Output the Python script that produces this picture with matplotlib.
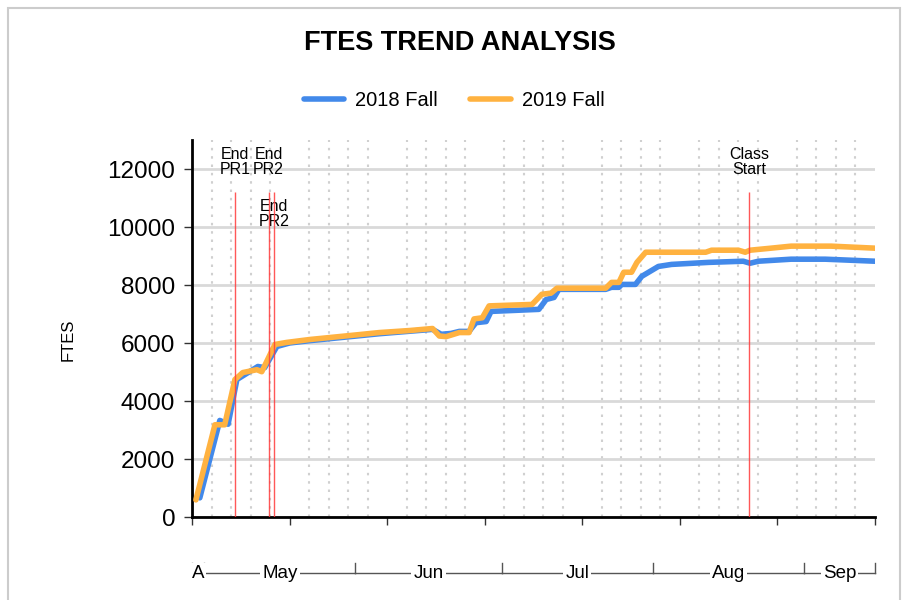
import matplotlib
matplotlib.use("Agg")
import matplotlib.pyplot as plt
import matplotlib.transforms as mtransforms
from matplotlib.patches import Rectangle
import numpy as np
import pandas as pd

plt.rcParams['font.family'] = ['Liberation Sans', 'DejaVu Sans']

# day 0 = Apr 28
base_date = pd.Timestamp("2019-04-28")
n_days = 140

days_2018 = [1.6, 5.7, 7.4, 9.2, 13.5, 14.9, 17.4, 20.0, 24.1, 38.4, 49.3, 51.1, 53.1,
             54.8, 56.8, 58.2, 60.3, 61.3, 71.1, 72.6, 74.2, 75.2, 84.8, 86.0, 87.5,
             88.1, 90.9, 92.2, 93.6, 95.6, 98.3, 105.9, 113.0, 114.4, 116.1, 122.8,
             129.8, 140.0]
ftes_2018 = [660, 3330, 3200, 4740, 5190, 5150, 5880, 6000, 6080, 6320, 6470, 6300, 6330,
             6400, 6400, 6700, 6740, 7090, 7160, 7500, 7570, 7850, 7850, 7920, 7920,
             8020, 8020, 8300, 8440, 8640, 8710, 8780, 8820, 8750, 8820, 8890,
             8890, 8820]

days_2019 = [0.8, 4.7, 6.7, 8.8, 10.4, 13.3, 14.3, 17.0, 19.4, 24.1, 33.7, 38.4, 44.6,
             49.3, 50.7, 52.1, 54.8, 56.8, 57.8, 59.5, 60.9, 69.7, 71.7, 73.6, 74.8,
             84.8, 86.0, 87.5, 88.5, 90.1, 91.2, 93.0, 105.3, 106.5, 112.0, 113.4,
             114.4, 118.7, 122.8, 131.0, 140.0]
ftes_2019 = [590, 3180, 3180, 4740, 4980, 5080, 5010, 5950, 6020, 6120, 6280, 6360, 6430,
             6500, 6240, 6220, 6360, 6360, 6830, 6870, 7280, 7330, 7680, 7720, 7890,
             7890, 8090, 8090, 8440, 8440, 8780, 9130, 9130, 9200, 9200, 9130,
             9200, 9270, 9340, 9340, 9270]

marker_days = [8.8, 15.7, 16.8, 114.2]
marker_labels = ["End\nPR1", "End\nPR2", "End\nPR2", "Class\nStart"]
marker_label_y = [12250, 12250, 10450, 12250]
marker_top = 11200

blue = '#4289ea'
orange = '#ffb240'

fig = plt.figure(figsize=(9.05, 6), dpi=100)
ax = fig.add_axes([192 / 905, 1 - 517 / 600, 683 / 905, 377 / 600])

ax.plot(days_2018, ftes_2018, color=blue, lw=4, label='2018 Fall',
        solid_joinstyle='round', solid_capstyle='round', zorder=3)
ax.plot(days_2019, ftes_2019, color=orange, lw=4, label='2019 Fall',
        solid_joinstyle='round', solid_capstyle='round', zorder=4)

for d, lab, ly in zip(marker_days, marker_labels, marker_label_y):
    ax.vlines(d, 0, marker_top, color='#ff3b3b', lw=1, alpha=0.85, zorder=5)
    ax.text(d, ly, lab, ha='center', va='center', fontsize=11.5, linespacing=1.0)

ax.set_xlim(0, n_days)
ax.set_ylim(0, 13000)
ax.set_yticks(np.arange(0, 12001, 2000))
ax.set_xticks(np.arange(0, n_days + 1, 20))
ax.set_xticks(np.arange(0, n_days + 1, 4), minor=True)
ax.set_xticklabels([])
ax.tick_params(axis='y', labelsize=17.5, length=6, width=1, color='#333333', pad=6)
ax.tick_params(axis='x', which='major', length=6, width=1, color='#333333')
ax.tick_params(axis='x', which='minor', length=0)
ax.grid(axis='y', color='#d9d9d9', lw=2)
ax.grid(axis='x', which='minor', color='#d0d0d0', lw=1.5, linestyle=(0, (1.2, 2.8)))
ax.set_axisbelow(True)

for s in ['top', 'right']:
    ax.spines[s].set_visible(False)
ax.spines['left'].set_linewidth(2)
ax.spines['bottom'].set_linewidth(2)

ax.set_ylabel('FTES', fontsize=12)
ax.yaxis.set_label_coords(-0.17, 0.47)

# month bracket axis below
trans = mtransforms.blended_transform_factory(ax.transData, ax.transAxes)
month_starts = pd.date_range("2019-05-01", "2019-09-01", freq='MS')
bounds = [0] + [(m - base_date).days - 0.5 for m in month_starts] + [n_days]
month_names = ['A', 'May', 'Jun', 'Jul', 'Aug', 'Sep']
y_line, y_tick = -0.149, -0.122
for i, name in enumerate(month_names):
    a, b = bounds[i], bounds[i + 1]
    ax.plot([a, b], [y_line, y_line], color='#555555', lw=1, transform=trans, clip_on=False)
    ax.text((a + b) / 2, y_line, name, ha='center', va='center', fontsize=13.5,
            transform=trans, clip_on=False,
            bbox=dict(facecolor='white', edgecolor='none', pad=1.5))
for bnd in bounds:
    ax.plot([bnd, bnd], [y_line, y_tick], color='#555555', lw=1, transform=trans, clip_on=False)

fig.text(0.508, 0.928, 'FTES TREND ANALYSIS', ha='center', va='center',
         fontsize=19.5, fontweight='bold')
fig.legend(loc='center', bbox_to_anchor=(0.502, 0.833), ncol=2, frameon=False,
           fontsize=14.5, handlelength=2.0, columnspacing=1.6, handletextpad=0.55)

fig.patches.append(Rectangle((8 / 905, -0.1), 892 / 905, 1.1 - 8 / 600,
                             transform=fig.transFigure, fill=False,
                             edgecolor='#cccccc', lw=1.5))

fig.savefig('out.png', dpi=100)
